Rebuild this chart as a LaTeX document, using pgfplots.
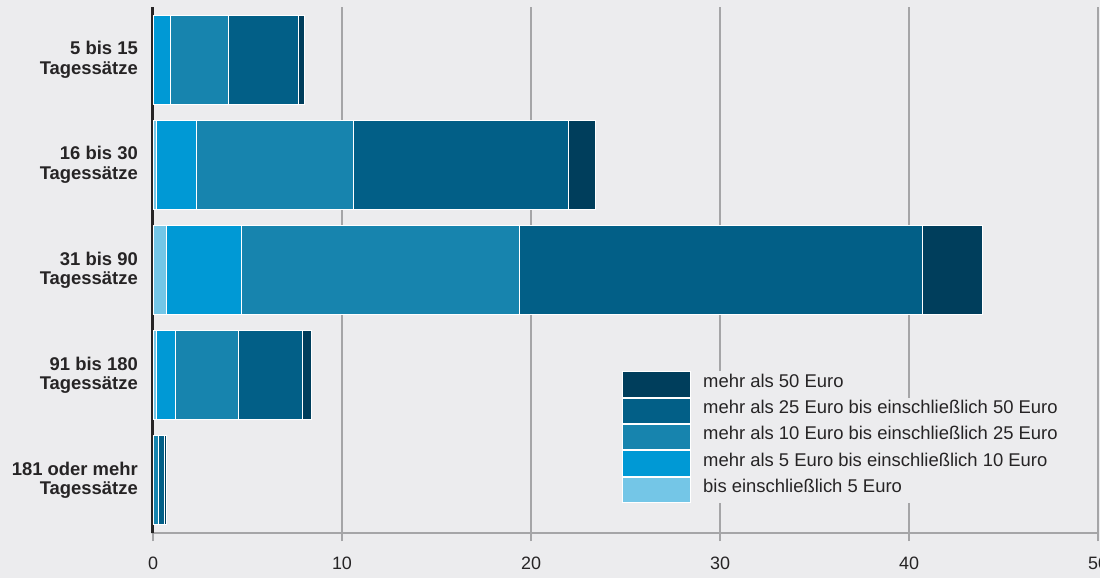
\documentclass[border=0pt]{standalone}
\usepackage{fontspec}
\setmainfont{Liberation Sans}
\usepackage{pgfplots}
\pgfplotsset{compat=1.18}

\definecolor{bg}{HTML}{ECECEE}
\definecolor{gridc}{HTML}{A5A5A7}
\definecolor{textc}{HTML}{262425}
\definecolor{cA}{HTML}{74C6E7}
\definecolor{cB}{HTML}{0099D5}
\definecolor{cC}{HTML}{1784AE}
\definecolor{cD}{HTML}{025F87}
\definecolor{cE}{HTML}{003E5C}

% Anteile je Tagessatz-Gruppe (Reihe 1 = 5 bis 15 ... Reihe 5 = 181 oder mehr)
\pgfplotstableread{
row bisfuenf fuenfzehn zehnfuenfundzwanzig zwanzigfuenfzig mehrfuenfzig
1   0.05     0.85      3.1                 3.7             0.3
2   0.2      2.1       8.3                 11.4            1.4
3   0.7      4.0       14.7                21.3            3.2
4   0.2      1.0       3.3                 3.4             0.5
5   0.0      0.05      0.25                0.3             0.14
}\quoten

\begin{document}
\begin{tikzpicture}
\fill[bg] (0,0) rectangle (1100bp,578bp);
\begin{axis}[
    at={(153bp,45bp)}, anchor=south west,
    scale only axis, width=945bp, height=526bp,
    clip=false,
    xbar stacked, bar width=89bp,
    xmin=0, xmax=50, ymin=0.5, ymax=5.5, y dir=reverse,
    xtick={0,10,...,50}, ytick={1,...,5},
    yticklabels={{5 bis 15\\Tagessätze},{16 bis 30\\Tagessätze},{31 bis 90\\Tagessätze},{91 bis 180\\Tagessätze},{181 oder mehr\\Tagessätze}},
    axis x line*=bottom, axis y line*=left,
    x axis line style={gridc, line width=2bp, -},
    y axis line style={textc, line width=2.5bp, -},
    xmajorgrids, major grid style={gridc, line width=1.8bp},
    tick align=outside, major tick length=8bp,
    xtick style={gridc, line width=1.8bp},
    ytick style={draw=none},
    /pgf/number format/assume math mode=true,
    xticklabel style={font=\fontsize{18}{20}\selectfont, text=textc, yshift=-12bp},
    yticklabel style={font=\bfseries\fontsize{18.5}{19.5}\selectfont, text=textc, align=right, inner xsep=0pt, xshift=-7bp},
    reverse legend, legend cell align=left,
    legend style={at={(0.4963,0.308)}, anchor=north west, draw=none, fill=none,
        inner sep=0pt, row sep=0pt,
        font=\fontsize{18.5}{20}\selectfont, text=textc,
        nodes={fill=bg, inner xsep=12bp, inner ysep=0pt, text height=16bp, text depth=10.4bp}},
    leg/.style={draw=white, line width=1bp,
        legend image code/.code={\draw[##1] (0bp,-12.7bp) rectangle (68bp,12.7bp);}},
]
\addplot[fill=cA, leg] table[x=bisfuenf, y=row] {\quoten};
\addlegendentry{bis einschließlich 5 Euro}
\addplot[fill=cB, leg] table[x=fuenfzehn, y=row] {\quoten};
\addlegendentry{mehr als 5 Euro bis einschließlich 10 Euro}
\addplot[fill=cC, leg] table[x=zehnfuenfundzwanzig, y=row] {\quoten};
\addlegendentry{mehr als 10 Euro bis einschließlich 25 Euro}
\addplot[fill=cD, leg] table[x=zwanzigfuenfzig, y=row] {\quoten};
\addlegendentry{mehr als 25 Euro bis einschließlich 50 Euro}
\addplot[fill=cE, leg] table[x=mehrfuenfzig, y=row] {\quoten};
\addlegendentry{mehr als 50 Euro}
% dunkle y-Achse ueber den Balken
\draw[textc, line width=2.5bp] ([xshift=-0.4bp]rel axis cs:0,1) -- ([xshift=-0.4bp]rel axis cs:0,0) -- ++(0,-8bp);
\end{axis}
\pgfresetboundingbox
\path (0,0) rectangle (1100bp,578bp);
\end{tikzpicture}
\end{document}
